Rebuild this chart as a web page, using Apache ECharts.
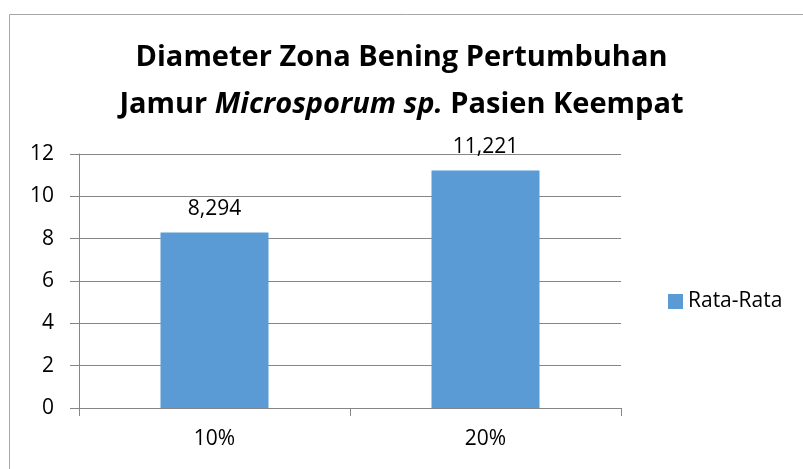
<!DOCTYPE html>
<html><head><meta charset="utf-8">
<script src="https://cdn.jsdelivr.net/npm/echarts@6/dist/echarts.min.js"></script>
<style>html,body{margin:0;padding:0;background:#fff}#c{width:803px;height:469px}</style>
</head><body><div id="c"></div>
<script>
const categories = ['10%', '20%'];
const seriesName = 'Rata-Rata';
const values = [8.294, 11.221];
const yTicks = { min: 0, max: 12, interval: 2 };
const titleLine1 = 'Diameter Zona Bening Pertumbuhan';
const titleLine2a = 'Jamur ';
const titleLine2b = 'Microsporum sp.';
const titleLine2c = ' Pasien Keempat';

const FONT = 'Open Sans';
const chart = echarts.init(document.getElementById('c'), null, {renderer: 'canvas'});
chart.setOption({
  animation: false,
  backgroundColor: '#fff',
  graphic: [{ type: 'rect', silent: true, shape: { x: 9.5, y: 14.5, width: 900, height: 600 }, style: { fill: 'none', stroke: '#a6a6a6', lineWidth: 1 } }],
  title: {
    left: 'center', top: 29,
    text: '{b|' + titleLine1 + '}\n{b|' + titleLine2a + '}{i|' + titleLine2b + '}{b|' + titleLine2c + '}',
    textStyle: {
      rich: {
        b: { fontFamily: FONT, fontWeight: 'bold', fontSize: 29, color: '#000', lineHeight: 47 },
        i: { fontFamily: FONT, fontWeight: 'bold', fontStyle: 'italic', fontSize: 29, color: '#000', lineHeight: 47 }
      }
    }
  },
  legend: {
    orient: 'vertical', left: 663, top: 286,
    itemWidth: 15, itemHeight: 15, itemGap: 8,
    icon: 'rect',
    textStyle: { fontFamily: FONT, fontSize: 21, color: '#000' },
    data: [seriesName]
  },
  grid: { left: 79, right: 182, top: 154, bottom: 61, containLabel: false },
  xAxis: {
    type: 'category', data: categories,
    axisLine: { show: true, lineStyle: { color: '#868686', width: 1 } },
    axisTick: { show: true, length: 8, lineStyle: { color: '#868686' } },
    axisLabel: { fontFamily: FONT, fontSize: 21, color: '#000', margin: 21 }
  },
  yAxis: {
    type: 'value', min: yTicks.min, max: yTicks.max, interval: yTicks.interval,
    axisLine: { show: true, lineStyle: { color: '#868686', width: 1 } },
    axisTick: { show: true, length: 9, lineStyle: { color: '#868686' } },
    splitLine: { show: true, lineStyle: { color: '#868686', width: 1 } },
    axisLabel: { fontFamily: FONT, fontSize: 21, color: '#000', margin: 25 }
  },
  series: [{
    name: seriesName, type: 'bar', data: values, barWidth: 108,
    itemStyle: { color: '#5B9BD5' },
    label: {
      show: true, position: 'top', distance: 13,
      fontFamily: FONT, fontSize: 21, color: '#000',
      formatter: p => p.value.toFixed(3).replace('.', ',')
    }
  }]
});
</script></body></html>
